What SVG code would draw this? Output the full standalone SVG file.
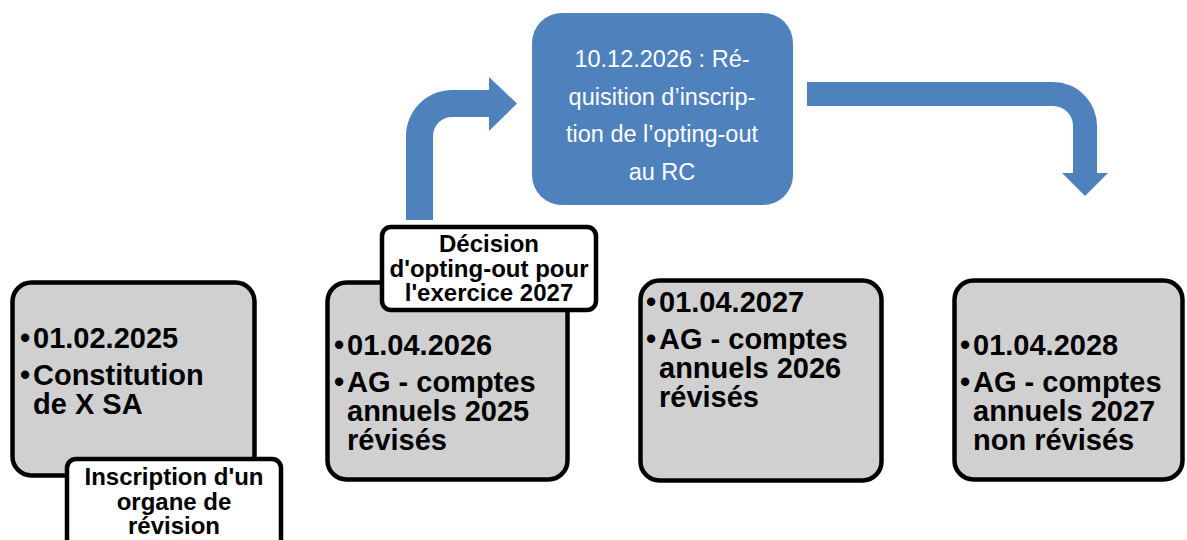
<svg xmlns="http://www.w3.org/2000/svg" width="1187" height="540" viewBox="0 0 1187 540">
<style>
.box{fill:#D0D0D0;stroke:#000;stroke-width:4.5}
.lbl{fill:#fff;stroke:#000;stroke-width:4.5}
.t{font-family:"Liberation Sans",Arial,sans-serif;font-weight:bold;font-size:29px;fill:#000}
.lt{font-family:"Liberation Sans",Arial,sans-serif;font-weight:bold;font-size:24px;fill:#000;text-anchor:middle}
.bt{font-family:"Liberation Sans",Arial,sans-serif;font-size:23.5px;fill:#fff;text-anchor:middle}
.arrow{fill:#4F81BD}
</style>
<rect width="1187" height="540" fill="#fff"/>
<g id="connectors">
<path class="arrow" d="M406,220 L406,136 A46,46 0 0 1 452,90 L489,90 L489,77 L517,103.5 L489,131 L489,117 L452,117 A19,19 0 0 0 433,136 L433,220 Z"/>
<path class="arrow" d="M807,82 L1053,82 A44,44 0 0 1 1097,126 L1097,173 L1108,173 L1085,196 L1062,173 L1073,173 L1073,126 A20,20 0 0 0 1053,106 L807,106 Z"/>
</g>
<g id="node-req">
<rect x="532" y="13" width="261" height="192" rx="30" fill="#4F81BD"/>
<text class="bt" x="662" y="67">10.12.2026 : Ré-</text>
<text class="bt" x="662" y="104.5">quisition d’inscrip-</text>
<text class="bt" x="662" y="142">tion de l’opting-out</text>
<text class="bt" x="662" y="179.5">au RC</text>
</g>
<g id="node-2025">
<rect class="box" x="12.5" y="282.5" width="242" height="193" rx="19"/>
<text class="t" x="20" y="348">•</text><text class="t" x="33" y="348">01.02.2025</text>
<text class="t" x="20" y="385">•</text><text class="t" x="33" y="385">Constitution</text>
<text class="t" x="33" y="414">de X SA</text>
</g>
<g id="label-inscription">
<rect class="lbl" x="67" y="459" width="214" height="100" rx="9"/>
<text class="lt" x="174" y="485">Inscription d'un</text>
<text class="lt" x="174" y="509.5">organe de</text>
<text class="lt" x="174" y="534">révision</text>
</g>
<g id="node-2026">
<rect class="box" x="327.5" y="282.5" width="240" height="197" rx="19"/>
<text class="t" x="334" y="355">•</text><text class="t" x="347" y="355">01.04.2026</text>
<text class="t" x="334" y="392">•</text><text class="t" x="347" y="392">AG - comptes</text>
<text class="t" x="347" y="421">annuels 2025</text>
<text class="t" x="347" y="450">révisés</text>
</g>
<g id="label-decision">
<rect class="lbl" x="382" y="227" width="214" height="83" rx="9"/>
<text class="lt" x="489" y="252">Décision</text>
<text class="lt" x="489" y="276.5">d'opting-out pour</text>
<text class="lt" x="489" y="301">l'exercice 2027</text>
</g>
<g id="node-2027">
<rect class="box" x="640.5" y="280.5" width="241" height="200" rx="19"/>
<text class="t" x="646" y="312">•</text><text class="t" x="659" y="312">01.04.2027</text>
<text class="t" x="646" y="349">•</text><text class="t" x="659" y="349">AG - comptes</text>
<text class="t" x="659" y="378">annuels 2026</text>
<text class="t" x="659" y="407">révisés</text>
</g>
<g id="node-2028">
<rect class="box" x="954.5" y="280.5" width="228" height="199" rx="19"/>
<text class="t" x="960" y="355">•</text><text class="t" x="973" y="355">01.04.2028</text>
<text class="t" x="960" y="392">•</text><text class="t" x="973" y="392">AG - comptes</text>
<text class="t" x="973" y="421">annuels 2027</text>
<text class="t" x="973" y="450">non révisés</text>
</g>
</svg>
